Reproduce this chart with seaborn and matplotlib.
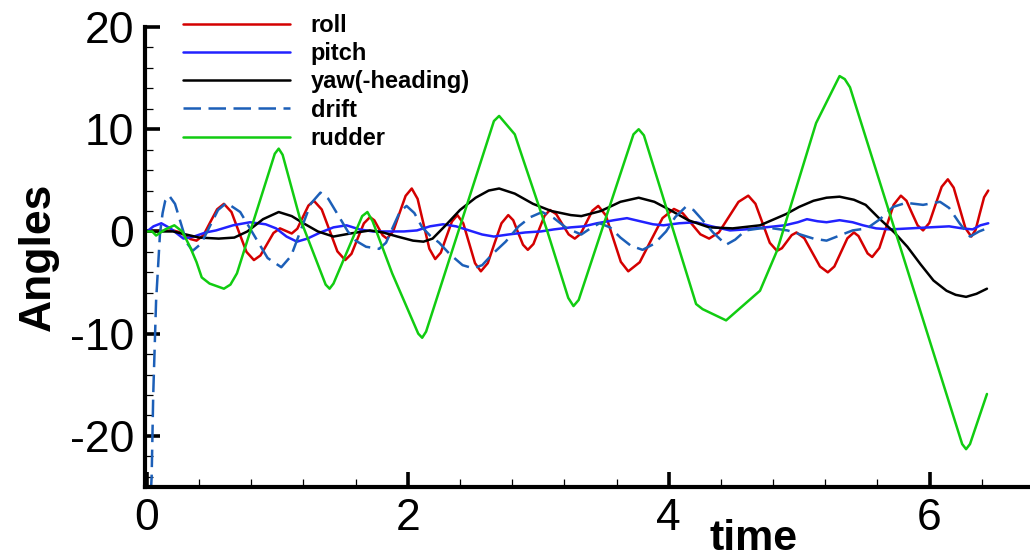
import numpy as np
import pandas as pd
import seaborn as sns
import matplotlib
matplotlib.use("Agg")
import matplotlib.pyplot as plt
from matplotlib.ticker import MultipleLocator

# ---- time histories (time, angle in degrees) ----
t_roll = [0.00, 0.10, 0.20, 0.245, 0.29, 0.335, 0.38, 0.433, 0.485, 0.538, 0.59, 0.648, 0.705, 0.763,
          0.82, 0.87, 0.92, 0.97, 1.02, 1.065, 1.11, 1.153, 1.195, 1.238, 1.28, 1.34, 1.40, 1.46,
          1.52, 1.568, 1.615, 1.663, 1.71, 1.743, 1.775, 1.808, 1.84, 1.888, 1.935, 1.983, 2.03,
          2.075, 2.12, 2.165, 2.21, 2.253, 2.295, 2.338, 2.38, 2.425, 2.47, 2.515, 2.56, 2.613,
          2.665, 2.718, 2.77, 2.808, 2.845, 2.883, 2.92, 2.963, 3.005, 3.048, 3.09, 3.138, 3.185,
          3.233, 3.28, 3.325, 3.37, 3.415, 3.46, 3.518, 3.575, 3.633, 3.69, 3.778, 3.865, 3.953,
          4.04, 4.108, 4.175, 4.243, 4.31, 4.385, 4.46, 4.535, 4.61, 4.665, 4.72, 4.775, 4.83,
          4.868, 4.905, 4.943, 4.98, 5.04, 5.10, 5.16, 5.22, 5.27, 5.32, 5.37, 5.42, 5.455, 5.49,
          5.525, 5.56, 5.615, 5.67, 5.725, 5.78, 5.823, 5.865, 5.908, 5.95, 5.998, 6.045, 6.093,
          6.14, 6.185, 6.23, 6.275, 6.32, 6.353, 6.385, 6.418, 6.45]
roll = [0.0, 0.05, 0.1, -0.05, -0.4, -0.75, -0.9, -0.37, 0.9, 2.17, 2.7, 1.9, -0.05, -2.0,
        -2.8, -2.35, -1.25, -0.15, 0.3, 0.05, -0.2, 0.27, 1.4, 2.53, 3.0, 2.15, 0.1, -1.95,
        -2.8, -2.19, -0.7, 0.79, 1.4, 1.09, 0.35, -0.39, -0.7, 0.02, 1.75, 3.48, 4.2,
        3.19, 0.75, -1.69, -2.7, -2.07, -0.55, 0.97, 1.6, 0.8, -1.15, -3.1, -3.9, -3.1,
        -1.15, 0.8, 1.6, 1.1, -0.1, -1.3, -1.8, -1.23, 0.15, 1.53, 2.1, 1.69, 0.7,
        -0.29, -0.7, -0.23, 0.9, 2.03, 2.5, 1.57, -0.7, -2.97, -3.9, -3.01, -0.85, 1.31,
        2.2, 1.78, 0.75, -0.28, -0.7, -0.09, 1.4, 2.89, 3.5, 2.71, 0.8, -1.11, -1.9,
        -1.64, -1.0, -0.36, -0.1, -0.67, -2.05, -3.43, -4.0, -3.43, -2.05, -0.67, -0.1, -0.45, -1.3,
        -2.15, -2.5, -1.62, 0.5, 2.62, 3.5, 3.0, 1.8, 0.6, 0.1, 0.83, 2.6, 4.37,
        5.1, 4.28, 2.3, 0.32, -0.5, 0.16, 1.75, 3.34, 4.0]

t_pitch = [0.00, 0.05, 0.11, 0.18, 0.28, 0.36, 0.45, 0.53, 0.66, 0.79, 0.91, 0.99, 1.07, 1.15, 1.23,
           1.33, 1.43, 1.53, 1.63, 1.73, 1.86, 1.97, 2.07, 2.17, 2.27, 2.37, 2.47, 2.57, 2.66, 2.77,
           2.90, 3.02, 3.12, 3.25, 3.35, 3.45, 3.58, 3.68, 3.78, 3.88, 3.96, 4.08, 4.21, 4.33, 4.47,
           4.59, 4.74, 4.89, 4.99, 5.06, 5.14, 5.21, 5.31, 5.41, 5.49, 5.59, 5.70, 5.85, 6.00, 6.15,
           6.25, 6.33, 6.39, 6.45]
pitch = [0.0, 0.5, 0.8, 0.3, -0.7, -0.5, -0.1, 0.1, 0.6, 0.9, 0.7, 0.3, -0.5, -1.0, -0.7,
         -0.1, 0.4, 0.6, 0.2, 0.0, 0.0, 0.0, 0.1, 0.5, 0.7, 0.5, 0.1, -0.3, -0.5, -0.3,
         -0.1, 0.0, 0.2, 0.4, 0.5, 0.8, 1.1, 1.3, 1.0, 0.7, 0.6, 0.8, 0.9, 0.5, 0.1,
         0.2, 0.4, 0.6, 0.9, 1.2, 1.0, 0.9, 1.1, 0.9, 0.6, 0.3, 0.2, 0.3, 0.4, 0.5,
         0.3, 0.2, 0.6, 0.8]

t_yaw = [0.00, 0.20, 0.30, 0.40, 0.55, 0.67, 0.77, 0.89, 1.01, 1.11, 1.20, 1.31, 1.43, 1.56, 1.71,
         1.81, 1.92, 2.04, 2.12, 2.19, 2.29, 2.40, 2.52, 2.62, 2.70, 2.82, 2.96, 3.10, 3.25, 3.33,
         3.48, 3.63, 3.77, 3.89, 4.01, 4.15, 4.31, 4.49, 4.70, 4.90, 5.00, 5.11, 5.21, 5.31, 5.42,
         5.51, 5.62, 5.73, 5.83, 5.93, 6.03, 6.13, 6.20, 6.28, 6.36, 6.44]
yaw = [0.0, 0.0, -0.3, -0.6, -0.7, -0.6, 0.0, 1.2, 1.9, 1.5, 0.8, 0.0, -0.5, -0.2, 0.1,
       -0.1, -0.5, -0.9, -1.0, -0.7, 0.6, 2.1, 3.3, 4.0, 4.2, 3.7, 2.7, 2.0, 1.6, 1.5,
       2.0, 2.9, 3.3, 2.9, 2.1, 1.1, 0.4, 0.3, 0.6, 1.7, 2.4, 3.0, 3.3, 3.4, 3.1,
       2.6, 1.2, -0.1, -1.5, -3.2, -4.8, -5.8, -6.2, -6.4, -6.1, -5.6]

t_drift = [0.03, 0.036, 0.048, 0.07, 0.10, 0.12, 0.14, 0.17, 0.215, 0.26, 0.305, 0.35, 0.415, 0.48,
           0.545, 0.61, 0.715, 0.82, 0.925, 1.03, 1.105, 1.18, 1.255, 1.33, 1.39, 1.47, 1.54, 1.60,
           1.68, 1.78, 1.833, 1.885, 1.938, 1.99, 2.05, 2.11, 2.17, 2.24, 2.32, 2.42, 2.50, 2.57,
           2.65, 2.75, 2.85, 2.94, 3.03, 3.12, 3.22, 3.33, 3.40, 3.47, 3.55, 3.63, 3.71, 3.80,
           3.89, 3.98, 4.05, 4.13, 4.19, 4.26, 4.34, 4.44, 4.51, 4.59, 4.70, 4.80, 4.91, 5.01,
           5.11, 5.21, 5.31, 5.41, 5.52, 5.62, 5.72, 5.82, 5.95, 6.08, 6.15, 6.23, 6.31, 6.38, 6.44]
drift = [-25.5, -24.0, -16.0, -6.8, -0.2, 1.8, 3.0, 3.5, 2.7, 0.8, -1.1, -1.9, -1.2, 0.45,
         2.1, 2.8, 1.9, -0.35, -2.6, -3.5, -2.4, 0.15, 2.7, 3.8, 3.2, 1.5, 0.0, -0.9,
         -1.5, -1.7, -1.1, 0.4, 1.9, 2.5, 1.8, 0.4, -0.4, -1.1, -2.2, -3.3, -3.6, -3.3,
         -2.2, -1.0, 0.5, 1.4, 1.9, 1.3, 0.3, -0.3, 0.3, 0.8, 0.4, -0.6, -1.4, -1.8,
         -1.2, 0.0, 1.4, 2.4, 2.1, 1.1, -0.1, -1.3, -0.8, 0.1, 0.3, 0.3, 0.1, -0.3,
         -0.7, -0.9, -0.4, 0.1, 0.3, 1.2, 2.4, 2.8, 2.6, 2.9, 2.3, 0.8, -0.5, 0.0, 0.3]

t_rudder = [0.00, 0.04, 0.07, 0.14, 0.21, 0.27, 0.33, 0.38, 0.42, 0.48, 0.59, 0.64, 0.69, 0.98, 1.01,
            1.04, 1.17, 1.37, 1.40, 1.43, 1.65, 1.69, 1.73, 1.88, 2.08, 2.11, 2.14, 2.66, 2.70, 2.74,
            2.82, 2.88, 3.07, 3.23, 3.27, 3.31, 3.73, 3.77, 3.81, 4.21, 4.26, 4.44, 4.70, 4.83, 5.13,
            5.31, 5.35, 5.39, 6.25, 6.28, 6.31, 6.44]
rudder = [0.0, 0.0, -0.4, 0.2, 0.6, 0.0, -1.5, -3.0, -4.5, -5.1, -5.6, -5.2, -4.1, 7.6, 8.1,
          7.5, 1.4, -5.2, -5.6, -5.1, 1.5, 1.9, 1.0, -4.1, -10.0, -10.4, -9.8, 10.8, 11.3, 10.7,
          9.5, 7.2, 0.0, -6.5, -7.3, -6.7, 9.5, 10.0, 9.4, -7.1, -7.6, -8.7, -5.8, -1.9, 10.6,
          15.2, 14.9, 14.1, -20.8, -21.3, -20.8, -15.9]

labels = ["roll", "pitch", "yaw(-heading)", "drift", "rudder"]
colors = ["#d40000", "#2222ff", "#000000", "#1c5fb8", "#11cc11"]

sns.set_theme(style="white")
plt.rcParams["font.family"] = ["Liberation Sans", "DejaVu Sans"]
plt.rcParams["axes.unicode_minus"] = False
for key in ("text.color", "axes.labelcolor", "xtick.color", "ytick.color"):
    plt.rcParams[key] = "black"

fig = plt.figure(figsize=(10.30, 5.60), dpi=100)
ax = fig.add_axes([145 / 1030, 1 - 487 / 560, 885 / 1030, 460 / 560])

series = [(t_roll, roll), (t_pitch, pitch), (t_yaw, yaw), (t_drift, drift), (t_rudder, rudder)]
for (tt, vv), lab, col in zip(series, labels, colors):
    df = pd.DataFrame({"time": tt, "angle": vv})
    sns.lineplot(data=df, x="time", y="angle", color=col, linewidth=1.8,
                 label=lab, ax=ax, legend=False)

drift_line = ax.lines[3]
drift_line.set_dashes([7, 3])

ax.set_xlim(-0.015, 6.77)
ax.set_ylim(-25, 20)

ax.xaxis.set_major_locator(MultipleLocator(2))
ax.xaxis.set_minor_locator(MultipleLocator(0.4))
ax.yaxis.set_major_locator(MultipleLocator(10))
ax.yaxis.set_minor_locator(MultipleLocator(2))

for side in ("top", "right"):
    ax.spines[side].set_visible(False)
for side in ("left", "bottom"):
    ax.spines[side].set_linewidth(3.0)
    ax.spines[side].set_color("black")

ax.tick_params(which="major", direction="in", length=11, width=2.6, color="black",
               labelsize=32, pad=8, labelcolor="black")
ax.tick_params(which="minor", direction="in", length=6, width=0.9, color="black")
ax.tick_params(axis="x", which="both", bottom=True, top=False)
ax.tick_params(axis="y", which="both", left=True, right=False)

ax.set_xlabel("time", fontsize=31, fontweight="bold", color="black")
ax.xaxis.label.set_va("center")
ax.xaxis.set_label_coords(0.688, -0.112)
ax.set_ylabel("Angles", fontsize=32, fontweight="bold", color="black")
ax.yaxis.label.set_va("center")
ax.yaxis.set_label_coords(-0.120, 0.50)

handles = ax.lines[:5]
leg = fig.legend(handles, labels, loc="upper left",
                 bbox_to_anchor=(183 / 1030, 1 - 14 / 560), bbox_transform=fig.transFigure,
                 frameon=False, prop={"weight": "bold", "size": 17},
                 handlelength=4.55, handletextpad=0.85, labelspacing=0.22,
                 borderpad=0, borderaxespad=0)
for txt in leg.get_texts():
    txt.set_color("black")

fig.savefig("out.png", dpi=100)
